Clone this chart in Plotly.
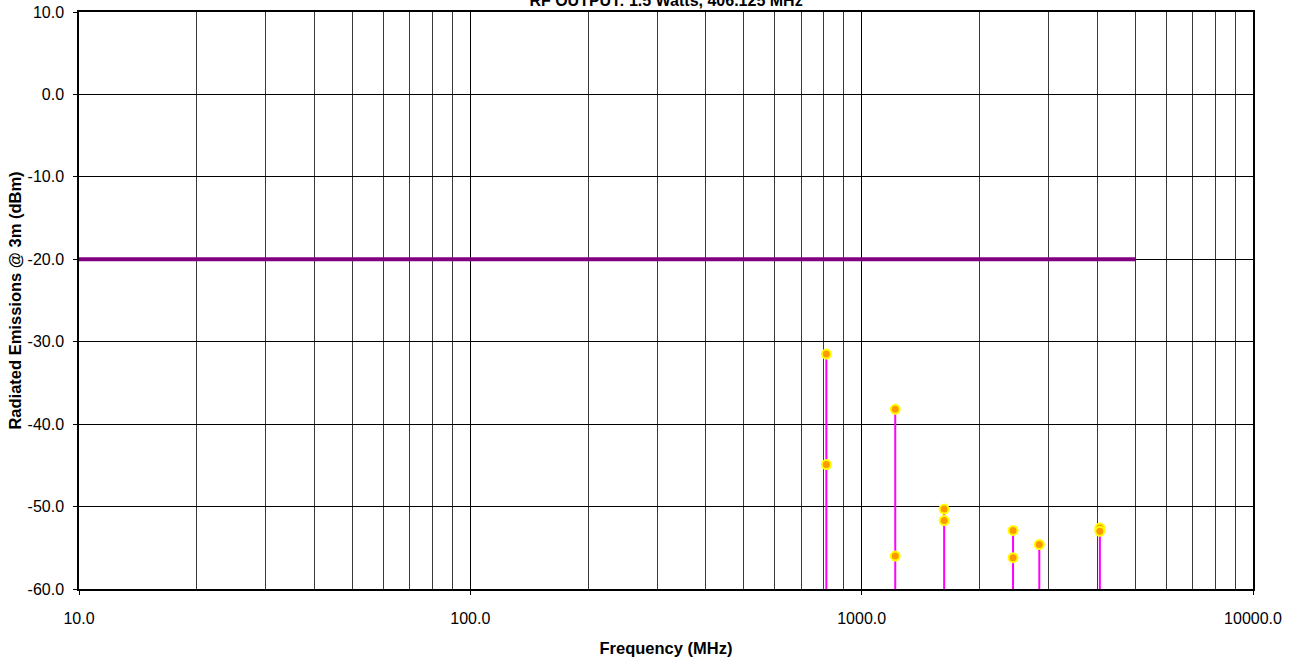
import plotly.graph_objects as go

# Data
harmonic_freq_mhz = [812.25, 1218.375, 1624.5, 2436.75, 2843.875, 4061.25]
peak_level_dbm = [-31.5, -38.2, -50.3, -52.9, -54.6, -52.6]
second_level_dbm = [-44.9, -56.0, -51.7, -56.2, None, -53.0]
limit_freq_mhz = [10, 5000]
limit_level_dbm = [-20, -20]
x_tick_vals = [10, 100, 1000, 10000]
x_tick_text = ["10.0", "100.0", "1000.0", "10000.0"]
y_tick_vals = [10, 0, -10, -20, -30, -40, -50, -60]
y_tick_text = ["10.0", "0.0", "-10.0", "-20.0", "-30.0", "-40.0", "-50.0", "-60.0"]

stem_base = -60.5
FONT = "Arial, Liberation Sans, sans-serif"

fig = go.Figure()

# Limit line
fig.add_trace(go.Scatter(
    x=limit_freq_mhz, y=limit_level_dbm, mode="lines",
    line=dict(color="#800080", width=4), showlegend=False, hoverinfo="skip",
))

# Stems (as error bars from base up to the peak)
fig.add_trace(go.Scatter(
    x=harmonic_freq_mhz, y=peak_level_dbm, mode="markers",
    marker=dict(size=1, opacity=0),
    error_y=dict(type="data", symmetric=False,
                 array=[0] * len(peak_level_dbm),
                 arrayminus=[p - stem_base for p in peak_level_dbm],
                 color="#FF00FF", thickness=2, width=0),
    cliponaxis=False, showlegend=False, hoverinfo="skip",
))

marker_style = dict(size=9, color="#FF9900", line=dict(color="#FFFF00", width=2))

fig.add_trace(go.Scatter(
    x=harmonic_freq_mhz, y=peak_level_dbm, mode="markers",
    marker=marker_style, showlegend=False, cliponaxis=False,
))
fig.add_trace(go.Scatter(
    x=harmonic_freq_mhz, y=second_level_dbm, mode="markers",
    marker=marker_style, showlegend=False, cliponaxis=False,
))

fig.update_layout(
    width=1301, height=661,
    margin=dict(l=79, r=48, t=12, b=72, autoexpand=False),
    paper_bgcolor="white", plot_bgcolor="white",
    font=dict(family=FONT, size=16, color="black"),
    title=dict(text="<b>RF OUTPUT: 1.5 Watts, 406.125 MHz</b>",
               x=666 / 1301, xanchor="center",
               y=1.0, yanchor="middle", yref="container",
               font=dict(size=16, family=FONT, color="black")),
)

fig.update_xaxes(
    type="log", range=[1, 4], automargin=False,
    tickvals=x_tick_vals, ticktext=x_tick_text,
    ticks="outside", ticklen=4, tickcolor="black", tickwidth=1,
    showline=True, linecolor="black", linewidth=1.5, mirror=True,
    showgrid=True, gridcolor="black", gridwidth=1,
    minor=dict(dtick="D1", showgrid=True, gridcolor="#3a3a3a", gridwidth=1, ticks=""),
    tickfont=dict(size=16, family=FONT),
    ticklabelstandoff=10,
    title=dict(text="<b>Frequency (MHz)</b>", font=dict(size=16.5, family=FONT), standoff=16),
    zeroline=False,
)
fig.update_yaxes(
    range=[-60, 10], tickvals=y_tick_vals, ticktext=y_tick_text, automargin=False,
    ticks="outside", ticklen=4, tickcolor="black", tickwidth=1,
    showline=True, linecolor="black", linewidth=1.5, mirror=True,
    showgrid=True, gridcolor="black", gridwidth=1,
    tickfont=dict(size=16, family=FONT),
    ticklabelstandoff=6,
    title=dict(text="<b>Radiated Emissions @ 3m (dBm)</b>", font=dict(size=16.5, family=FONT), standoff=2),
    zeroline=False,
)

fig.write_html("out.html")
